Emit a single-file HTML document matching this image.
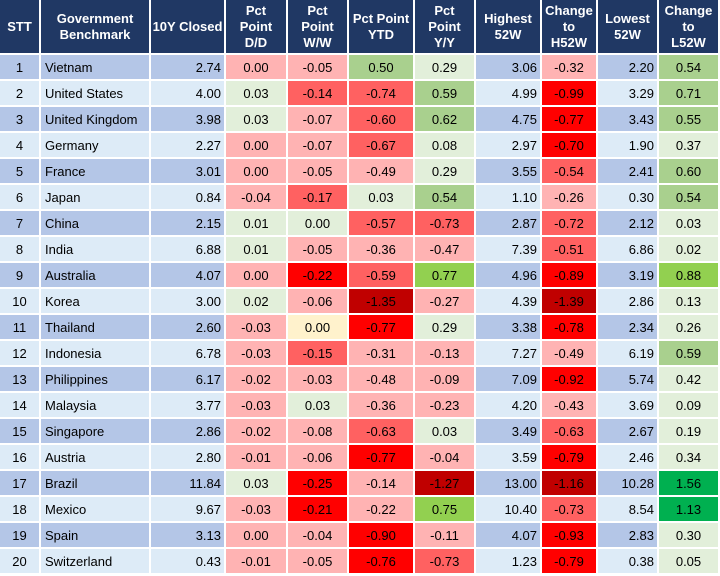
<!DOCTYPE html>
<html><head><meta charset="utf-8"><style>
body{margin:0;width:720px;height:576px;background:#fff;overflow:hidden;font-family:"Liberation Sans",Arial,sans-serif;}
#t{position:absolute;left:0;top:0;width:720px;height:576px;}
.c{position:absolute;box-sizing:border-box;display:flex;align-items:center;font-size:13px;color:#000;white-space:nowrap;}
.h{background:#203864;color:#fff;font-weight:bold;justify-content:center;text-align:center;line-height:16px;font-size:13px;}
</style></head><body>
<div id="t"></div>
<script>
const headers=["STT","Government<br>Benchmark","10Y Closed","Pct<br>Point<br>D/D","Pct<br>Point<br>W/W","Pct Point<br>YTD","Pct<br>Point<br>Y/Y","Highest<br>52W","Change<br>to<br>H52W","Lowest<br>52W","Change<br>to<br>L52W"];
const countries=["Vietnam","United States","United Kingdom","Germany","France","Japan","China","India","Australia","Korea","Thailand","Indonesia","Philippines","Malaysia","Singapore","Austria","Brazil","Mexico","Spain","Switzerland"];
const closed=["2.74","4.00","3.98","2.27","3.01","0.84","2.15","6.88","4.07","3.00","2.60","6.78","6.17","3.77","2.86","2.80","11.84","9.67","3.13","0.43"];
const dd=["0.00","0.03","0.03","0.00","0.00","-0.04","0.01","0.01","0.00","0.02","-0.03","-0.03","-0.02","-0.03","-0.02","-0.01","0.03","-0.03","0.00","-0.01"];
const ww=["-0.05","-0.14","-0.07","-0.07","-0.05","-0.17","0.00","-0.05","-0.22","-0.06","0.00","-0.15","-0.03","0.03","-0.08","-0.06","-0.25","-0.21","-0.04","-0.05"];
const ytd=["0.50","-0.74","-0.60","-0.67","-0.49","0.03","-0.57","-0.36","-0.59","-1.35","-0.77","-0.31","-0.48","-0.36","-0.63","-0.77","-0.14","-0.22","-0.90","-0.76"];
const yy=["0.29","0.59","0.62","0.08","0.29","0.54","-0.73","-0.47","0.77","-0.27","0.29","-0.13","-0.09","-0.23","0.03","-0.04","-1.27","0.75","-0.11","-0.73"];
const high=["3.06","4.99","4.75","2.97","3.55","1.10","2.87","7.39","4.96","4.39","3.38","7.27","7.09","4.20","3.49","3.59","13.00","10.40","4.07","1.23"];
const chH=["-0.32","-0.99","-0.77","-0.70","-0.54","-0.26","-0.72","-0.51","-0.89","-1.39","-0.78","-0.49","-0.92","-0.43","-0.63","-0.79","-1.16","-0.73","-0.93","-0.79"];
const low=["2.20","3.29","3.43","1.90","2.41","0.30","2.12","6.86","3.19","2.86","2.34","6.19","5.74","3.69","2.67","2.46","10.28","8.54","2.83","0.38"];
const chL=["0.54","0.71","0.55","0.37","0.60","0.54","0.03","0.02","0.88","0.13","0.26","0.59","0.42","0.09","0.19","0.34","1.56","1.13","0.30","0.05"];
// color classes per cell
const cDD=["P","G0","G0","P","P","P","G0","G0","P","G0","P","P","P","P","P","P","G0","P","P","P"];
const cWW=["P","R1","P","P","P","R1","G0","P","R2","P","Y","R1","P","G0","P","P","R2","R2","P","P"];
const cYTD=["G1","R1","R1","R1","P","G0","R1","P","R1","R3","R2","P","P","P","R1","R2","P","P","R2","R2"];
const cYY=["G0","G1","G1","G0","G0","G1","R1","P","G2","P","G0","P","P","P","G0","P","R3","G2","P","R1"];
const cH=["P","R2","R2","R2","R1","P","R1","R1","R2","R3","R2","P","R2","P","R1","R2","R3","R1","R2","R2"];
const cL=["G1","G1","G1","G0","G1","G1","G0","G0","G2","G0","G0","G1","G0","G0","G0","G0","G3","G3","G0","G0"];
const pal={P:"#ffb3b3",R1:"#ff6161",R2:"#ff0000",R3:"#c00000",G0:"#e2efda",G1:"#a9d08e",G2:"#92d050",G3:"#00b050",Y:"#fff2cc"};
const lefts=[0,41,151,226,288,349,415,476,542,598,659];
const widths=[39,108,73,60,59,64,59,64,54,59,59];
const colNames=["stt","country","closed-10y","pct-dd","pct-ww","pct-ytd","pct-yy","highest-52w","change-h52w","lowest-52w","change-l52w"];
const t=document.getElementById('t');
function cell(x,y,w,h,html,bg,align,cls){
  const d=document.createElement('div');
  d.className='c'+(cls?' '+cls:'');
  d.style.left=x+'px';d.style.top=y+'px';d.style.width=w+'px';d.style.height=h+'px';
  if(bg)d.style.background=bg;
  d.style.justifyContent=align;
  if(align==='flex-start')d.style.paddingLeft='4px';
  if(align==='flex-end')d.style.paddingRight='3px';
  d.innerHTML=html;
  t.appendChild(d);
  return d;
}
headers.forEach((h,i)=>{
  const d=cell(lefts[i],0,widths[i],53,h,null,'center','h');
  
  
});
for(let r=0;r<20;r++){
  const y=55+26*r;
  const base=r%2===0?"#b4c6e7":"#ddebf7";
  const vals=[String(r+1),countries[r],closed[r],dd[r],ww[r],ytd[r],yy[r],high[r],chH[r],low[r],chL[r]];
  const bgs=[base,base,base,pal[cDD[r]],pal[cWW[r]],pal[cYTD[r]],pal[cYY[r]],base,pal[cH[r]],base,pal[cL[r]]];
  const al=['center','flex-start','flex-end','center','center','center','center','flex-end','center','flex-end','center'];
  for(let c=0;c<11;c++){
    const d=cell(lefts[c],y,widths[c],24,vals[c],bgs[c],al[c]);
    
    
  }
}
</script>
</body></html>
